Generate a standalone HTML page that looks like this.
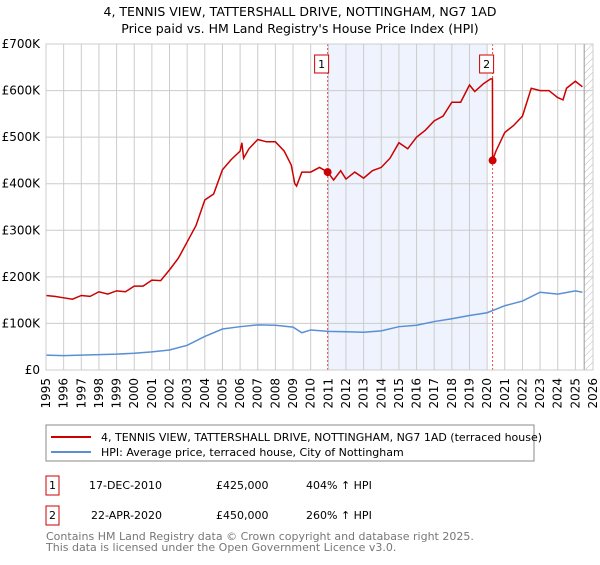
<!DOCTYPE html>
<html><head><meta charset="utf-8"><style>
body{margin:0;width:600px;height:560px;background:#fff;font-family:"Liberation Sans","DejaVu Sans",sans-serif;overflow:hidden}
</style></head><body>
<svg width="600" height="560" xmlns="http://www.w3.org/2000/svg" font-family="DejaVu Sans, Liberation Sans, sans-serif">
<defs><pattern id="hatch" width="5" height="5" patternUnits="userSpaceOnUse" patternTransform="rotate(45)"><line x1="0" y1="0" x2="0" y2="5" stroke="#bbb" stroke-width="1"/></pattern></defs>
<text x="300" y="16" text-anchor="middle" font-size="12.5" fill="#000">4, TENNIS VIEW, TATTERSHALL DRIVE, NOTTINGHAM, NG7 1AD</text>
<text x="300" y="33" text-anchor="middle" font-size="12.5" fill="#000">Price paid vs. HM Land Registry's House Price Index (HPI)</text>
<g id="plot"></g>
<g>
<rect x="46" y="425" width="488" height="36" fill="#fff" stroke="#888"/>
<line x1="51" y1="437" x2="91" y2="437" stroke="#cc0000" stroke-width="2"/>
<text x="101" y="441" font-size="11">4, TENNIS VIEW, TATTERSHALL DRIVE, NOTTINGHAM, NG7 1AD (terraced house)</text>
<line x1="51" y1="452" x2="91" y2="452" stroke="#5b8fd4" stroke-width="2"/>
<text x="101" y="456" font-size="11">HPI: Average price, terraced house, City of Nottingham</text>
</g>
<g font-size="11">
<rect x="46" y="476" width="13" height="19" fill="#fff" stroke="#cc0000"/>
<text x="52.5" y="489" text-anchor="middle">1</text>
<text x="89" y="489">17-DEC-2010</text><text x="216" y="489">£425,000</text><text x="306" y="489">404% ↑ HPI</text>
<rect x="46" y="506" width="13" height="19" fill="#fff" stroke="#cc0000"/>
<text x="52.5" y="519" text-anchor="middle">2</text>
<text x="91" y="519">22-APR-2020</text><text x="216" y="519">£450,000</text><text x="306" y="519">260% ↑ HPI</text>
</g>
<text x="46" y="540" font-size="11" fill="#777">Contains HM Land Registry data © Crown copyright and database right 2025.</text>
<text x="46" y="551" font-size="11" fill="#777">This data is licensed under the Open Government Licence v3.0.</text>
</svg>
<script>
const priceYears=[1995,1995.5,1996,1996.5,1997,1997.5,1998,1998.5,1999,1999.5,2000,2000.5,2001,2001.5,2002,2002.5,2003,2003.5,2004,2004.5,2005,2005.5,2006,2006.1,2006.2,2006.5,2007,2007.5,2008,2008.5,2008.9,2009.1,2009.2,2009.5,2010,2010.5,2010.96,2011.3,2011.7,2012,2012.5,2013,2013.5,2014,2014.5,2015,2015.5,2016,2016.5,2017,2017.5,2018,2018.5,2019,2019.3,2019.8,2020.2,2020.3,2020.31,2020.5,2021,2021.5,2022,2022.5,2023,2023.5,2024,2024.3,2024.5,2025,2025.4];
const priceValues=[160,158,155,152,160,158,168,163,170,168,180,180,193,192,215,240,275,310,365,378,430,452,470,488,455,475,495,490,490,470,440,400,395,425,425,435,425,408,428,410,425,412,428,435,455,488,475,500,515,535,545,575,575,612,598,615,625,625,450,470,510,525,545,605,600,600,585,580,605,620,608];
const hpiYears=[1995,1996,1997,1998,1999,2000,2001,2002,2003,2004,2005,2006,2007,2008,2009,2009.5,2010,2011,2012,2013,2014,2015,2016,2017,2018,2019,2020,2021,2022,2023,2024,2025,2025.4];
const hpiValues=[32,31,32,33,34,36,39,43,53,72,88,93,97,96,92,80,86,83,82,81,84,93,96,104,110,117,123,138,148,167,163,170,167];
const yTicks=[0,100,200,300,400,500,600,700];
const yTickLabels=["£0","£100K","£200K","£300K","£400K","£500K","£600K","£700K"];
const xTicks=[1995,1996,1997,1998,1999,2000,2001,2002,2003,2004,2005,2006,2007,2008,2009,2010,2011,2012,2013,2014,2015,2016,2017,2018,2019,2020,2021,2022,2023,2024,2025,2026];
const saleYears=[2010.96,2020.31];
const saleValues=[425,450];
const saleLabels=["1","2"];

const NS="http://www.w3.org/2000/svg";
const X0=46,X1=593,Y0=370,Y1=44;
const xs=y=>X0+(y-1995)/(2026-1995)*(X1-X0);
const ys=v=>Y0-v/700*(Y0-Y1);
const g=document.getElementById('plot');
function mk(t,a,p){const e=document.createElementNS(NS,t);for(const k in a)e.setAttribute(k,a[k]);(p||g).appendChild(e);return e;}
let e=mk('rect',{x:xs(saleYears[0]),y:Y1,width:xs(2020)-xs(saleYears[0]),height:Y0-Y1,fill:'#eef3fd'});


e=mk('rect',{x:xs(2025.5),y:Y1,width:X1-xs(2025.5),height:Y0-Y1,fill:'url(#hatch)'});


xTicks.forEach(t=>{
 const l=mk('line',{x1:xs(t),x2:xs(t),y1:Y1,y2:Y0,stroke:'#ccc','stroke-width':1});
 
 
 const tx=mk('text',{x:0,y:0,'font-size':12,'text-anchor':'end',transform:`translate(${xs(t)+4},${Y0+8}) rotate(-90)`});
 tx.textContent=t;
 
 
});
yTicks.forEach((t,i)=>{
 const l=mk('line',{x1:X0,x2:X1,y1:ys(t),y2:ys(t),stroke:'#ccc','stroke-width':1});
 
 
 const tx=mk('text',{x:X0-6,y:ys(t)+4,'font-size':12,'text-anchor':'end'});
 tx.textContent=yTickLabels[i];
 
 
});
e=mk('line',{x1:xs(2025.5),x2:xs(2025.5),y1:Y1,y2:Y0,stroke:'#999','stroke-width':1});


saleYears.forEach((s,i)=>{
 const l=mk('line',{x1:xs(s),x2:xs(s),y1:Y1,y2:Y0,stroke:'#e05050','stroke-width':1,'stroke-dasharray':'2,2'});
 
 
});
let p=mk('polyline',{points:hpiYears.map((y,i)=>xs(y)+','+ys(hpiValues[i])).join(' '),fill:'none',stroke:'#5b8fd4','stroke-width':1.5});


p=mk('polyline',{points:priceYears.map((y,i)=>xs(y)+','+ys(priceValues[i])).join(' '),fill:'none',stroke:'#cc0000','stroke-width':1.5});


saleYears.forEach((s,i)=>{
 const c=mk('circle',{cx:xs(s),cy:ys(saleValues[i]),r:4,fill:'#cc0000'});
 
 
 const r=mk('rect',{x:xs(s)-13,y:55,width:14,height:18,fill:'#fff',stroke:'#cc0000'});
 
 
 const t=mk('text',{x:xs(s)-6,y:68,'font-size':11,'text-anchor':'middle'});
 t.textContent=saleLabels[i];
 
 
});
e=mk('rect',{x:X0,y:Y1,width:X1-X0,height:Y0-Y1,fill:'none',stroke:'#ccc'});


</script>
</body></html>
